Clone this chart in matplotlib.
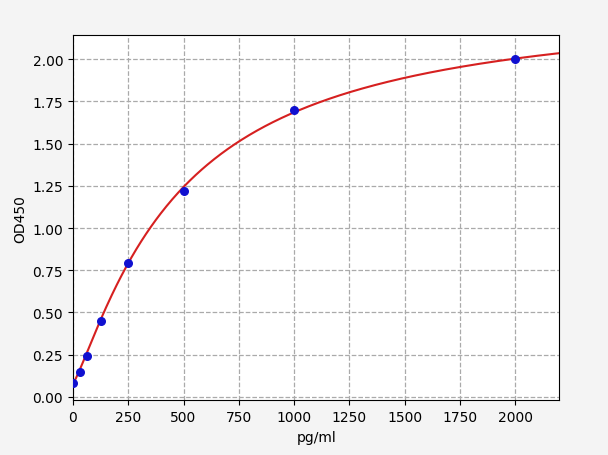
import numpy as np
import matplotlib
matplotlib.use("Agg")
import matplotlib.pyplot as plt

# standard points
conc = [0, 31.25, 62.5, 125, 250, 500, 1000, 2000]
od = [0.08, 0.15, 0.24, 0.45, 0.79, 1.22, 1.70, 2.00]

# 4PL fit parameters (bottom, top, ec50, slope)
fit_a, fit_d, fit_c, fit_b = 0.08, 2.35, 480, 1.2


def four_pl(x):
    x = np.asarray(x, dtype=float)
    return fit_d + (fit_a - fit_d) / (1 + (x / fit_c) ** fit_b)


fig = plt.figure(figsize=(6.08, 4.56), dpi=100, facecolor='#f4f4f4')
ax = fig.add_subplot(111)
ax.set_position([0.12, 0.12, 0.80, 0.80])

xs = np.linspace(0, 2200, 500)
ax.plot(xs, four_pl(xs), color='#d62020', linewidth=1.5, zorder=2)
ax.scatter(conc, od, color='#1010d0', s=30, zorder=3)

ax.set_xlim(0, 2200)
ax.set_ylim(-0.02, 2.14)
ax.set_xticks(np.arange(0, 2001, 250))
ax.set_yticks(np.arange(0, 2.01, 0.25))
ax.yaxis.set_major_formatter(matplotlib.ticker.FormatStrFormatter('%.2f'))
ax.grid(True, linestyle='--', color='#aaaaaa', linewidth=0.9)
ax.set_xlabel('pg/ml')
ax.set_ylabel('OD450')

fig.savefig('out.png', dpi=100, facecolor=fig.get_facecolor())
